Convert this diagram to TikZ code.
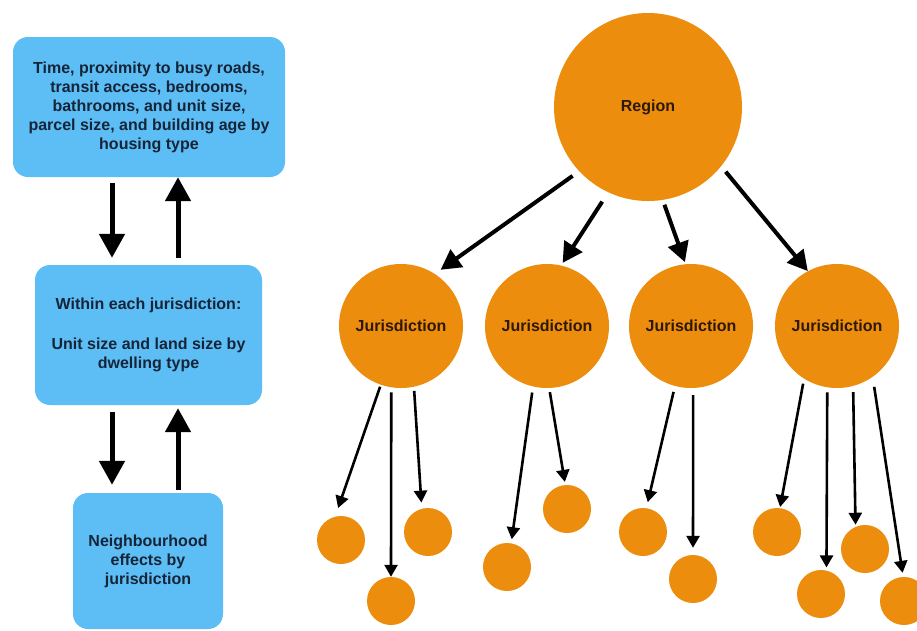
\documentclass[tikz,border=0pt]{standalone}
\usepackage{fontspec}
\setmainfont{Liberation Sans}
\usetikzlibrary{arrows.meta}
\definecolor{boxblue}{RGB}{92,190,245}
\definecolor{orng}{RGB}{236,141,14}
\definecolor{navy}{RGB}{22,36,56}
\definecolor{darkbrown}{RGB}{45,25,8}
\begin{document}
\begin{tikzpicture}[x=1pt,y=-1pt,
 box/.style={fill=boxblue,rounded corners=15pt,align=center,text=navy,font=\fontsize{16}{19}\selectfont\bfseries,inner sep=0pt},
 big/.style={circle,fill=orng,inner sep=0pt,text=darkbrown,font=\fontsize{16}{19}\selectfont\bfseries},
 small/.style={circle,fill=orng,minimum size=48pt,inner sep=0pt},
 fat/.style={line width=5pt,-{Triangle[width=25pt,length=24pt]}},
 mid/.style={line width=4pt,-{Triangle[width=21pt,length=20pt]}},
 leg/.style={line width=2.6pt,-{Triangle[width=13pt,length=12pt]}}]
\useasboundingbox (0,0) rectangle (917,630);
\fill[white] (0,0) rectangle (917,630);

% left column
\node[box,minimum width=272pt,minimum height=140pt] (b1) at (149,107) {Time, proximity to busy roads,\\transit access, bedrooms,\\bathrooms, and unit size,\\parcel size, and building age by\\housing type};
\node[box,minimum width=227pt,minimum height=140pt] (b2) at (148.5,335) {Within each jurisdiction:\\[21pt]Unit size and land size by\\dwelling type};
\node[box,minimum width=150pt,minimum height=136pt] (b3) at (148,561) {Neighbourhood\\effects by\\jurisdiction};
\coordinate (xl) at (112,0);
\coordinate (xr) at (178,0);
\draw[fat,shorten <=6pt,shorten >=7pt] (b1.south -| xl) -- (b2.north -| xl);
\draw[fat,shorten <=7pt] (b2.north -| xr) -- (b1.south -| xr);
\draw[fat,shorten <=7pt,shorten >=8pt] (b2.south -| xl) -- (b3.north -| xl);
\draw[fat,shorten <=3pt,shorten >=3pt] (b3.north -| xr) -- (b2.south -| xr);

% tree
\node[big,minimum size=188pt] (rg) at (648,107) {Region};
\node[big,minimum size=124pt] (j1) at (401,326) {Jurisdiction};
\node[big,minimum size=124pt] (j2) at (547,326) {Jurisdiction};
\node[big,minimum size=124pt] (j3) at (691,326) {Jurisdiction};
\node[big,minimum size=124pt] (j4) at (837,326) {Jurisdiction};

\node[small] (s1) at (341,540) {};
\node[small] (s2) at (391,601) {};
\node[small] (s3) at (428,532) {};
\node[small] (s4) at (507,567) {};
\node[small] (s5) at (567,509) {};
\node[small] (s6) at (643,532) {};
\node[small] (s7) at (693,579) {};
\node[small] (s8) at (777,532) {};
\node[small] (s9) at (821,594) {};
\node[small] (s10) at (865,549) {};
\node[small] (s11) at (904,601) {};

\draw[mid,shorten <=8pt,shorten >=7pt] (rg.223) -- (j1.57);
\draw[mid,shorten <=11pt,shorten >=3pt] (rg.245) -- (j2.77);
\draw[mid,shorten <=5pt,shorten >=2pt] (rg.279) -- (j3.95);
\draw[mid,shorten <=7pt] (rg.321) -- (j4.118);

\draw[leg,shorten <=2pt,shorten >=9pt] (j1.251) -- (s1.104);
\draw[leg,shorten <=5pt] (j1.261) -- (s2.90);
\draw[leg,shorten <=4pt,shorten >=6pt] (j1.282) -- (s3.105);
\draw[leg,shorten <=6pt,shorten >=4pt] (j2.257) -- (s4.80);
\draw[leg,shorten <=4pt,shorten >=3pt] (j2.272) -- (s5.94);
\draw[leg,shorten <=6pt,shorten >=6pt] (j3.255) -- (s6.82);
\draw[leg,shorten <=7pt,shorten >=7pt] (j3.272) -- (s7.90);
\draw[leg,shorten <=5pt,shorten >=1pt] (j4.238) -- (s8.83);
\draw[leg,shorten <=5pt,shorten >=3pt] (j4.261) -- (s9.77);
\draw[leg,shorten <=6pt,shorten >=2pt] (j4.285) -- (s10.113);
\draw[leg,shorten <=10pt,shorten >=4pt] (j4.305) -- (s11.92);
\end{tikzpicture}
\end{document}
